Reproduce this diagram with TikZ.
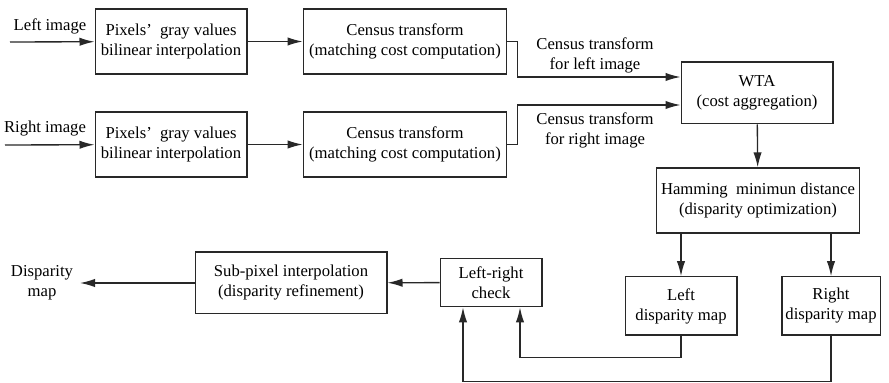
\documentclass[tikz,border=0pt]{standalone}
\usepackage{fontspec}
\setmainfont{Liberation Serif}
\usepackage{tikz}
\usetikzlibrary{positioning,calc,arrows.meta}
\definecolor{linecolor}{RGB}{40,40,40}

\begin{document}
\begin{tikzpicture}[
    x=0.6pt, y=-0.6pt,
    box/.style={draw=linecolor, thick, align=center, inner xsep=1pt, font=\fontsize{10}{12}\selectfont},
    lbl/.style={align=center, font=\fontsize{10}{12}\selectfont},
    arr/.style={draw=linecolor, thick, -{Latex[length=9pt,width=5pt]}},
    wire/.style={draw=linecolor, thick}
]
    \useasboundingbox (0,0) rectangle (889,383);

    % Input chains
    \node[box, minimum width=91pt, minimum height=39pt] (pix1) at (171,41.5) {Pixels’\ \ gray values\\bilinear interpolation};
    \node[box, minimum width=91pt, minimum height=39pt] (pix2) at (171,144.5) {Pixels’\ \ gray values\\bilinear interpolation};
    \node[box, minimum width=122pt, minimum height=39pt] (cen1) at (405,41.5) {Census transform\\(matching cost computation)};
    \node[box, minimum width=122pt, minimum height=39pt] (cen2) at (405,144.5) {Census transform\\(matching cost computation)};

    \coordinate (lin) at (10,42);
    \coordinate (rin) at (5,145);
    \node[lbl] (llbl) at (50,26) {Left image};
    \node[lbl] (rlbl) at (45,129) {Right image};

    \draw[arr] (lin) -- (pix1);
    \draw[arr] (rin) -- (pix2);
    \draw[arr] (pix1) -- (cen1);
    \draw[arr] (pix2) -- (cen2);

    % Cost aggregation and optimization
    \node[box, minimum width=91pt, minimum height=37pt] (wta) at (757,93) {WTA\\(cost aggregation)};
    \node[box, minimum width=122pt, minimum height=39pt] (ham) at (758,200.5) {Hamming\ \ minimun distance\\(disparity optimization)};

    \node[lbl] (cl) at (595,55) {Census transform\\for left image};
    \node[lbl] (cr) at (595,130) {Census transform\\for right image};

    \draw[arr] (cen1.east) -- ++(10,0) |- ($(wta.west)+(0,-16)$);
    \draw[arr] (cen2.east) -- ++(10,0) |- ($(wta.west)+(0,12)$);
    \draw[arr] (wta) -- (ham);

    % Disparity maps
    \node[box, minimum width=67pt, minimum height=35pt] (ldisp) at (681,306) {Left\\disparity map};
    \node[box, minimum width=59pt, minimum height=35pt] (rdisp) at (831,306) {Right\\disparity map};
    \draw[arr] (ham.south -| ldisp) -- (ldisp);
    \draw[arr] (ham.south -| rdisp) -- (rdisp);

    % Refinement
    \node[box, minimum width=61pt, minimum height=29pt] (lrc) at (491,282.5) {Left-right\\check};
    \node[box, minimum width=115pt, minimum height=37pt] (sub) at (291,283) {Sub-pixel interpolation\\(disparity refinement)};
    \node[lbl] (dmap) at (42,283) {Disparity\\map};
    \coordinate (out) at (80,283);

    \draw[arr] (ldisp.south) -- ++(0,22) -| ($(lrc.south)+(29,0)$);
    \draw[arr] (rdisp.south) -- ++(0,46) -| ($(lrc.south)+(-28,0)$);
    \draw[arr] (lrc) -- (sub);
    \draw[arr] (sub) -- (out);
\end{tikzpicture}
\end{document}
